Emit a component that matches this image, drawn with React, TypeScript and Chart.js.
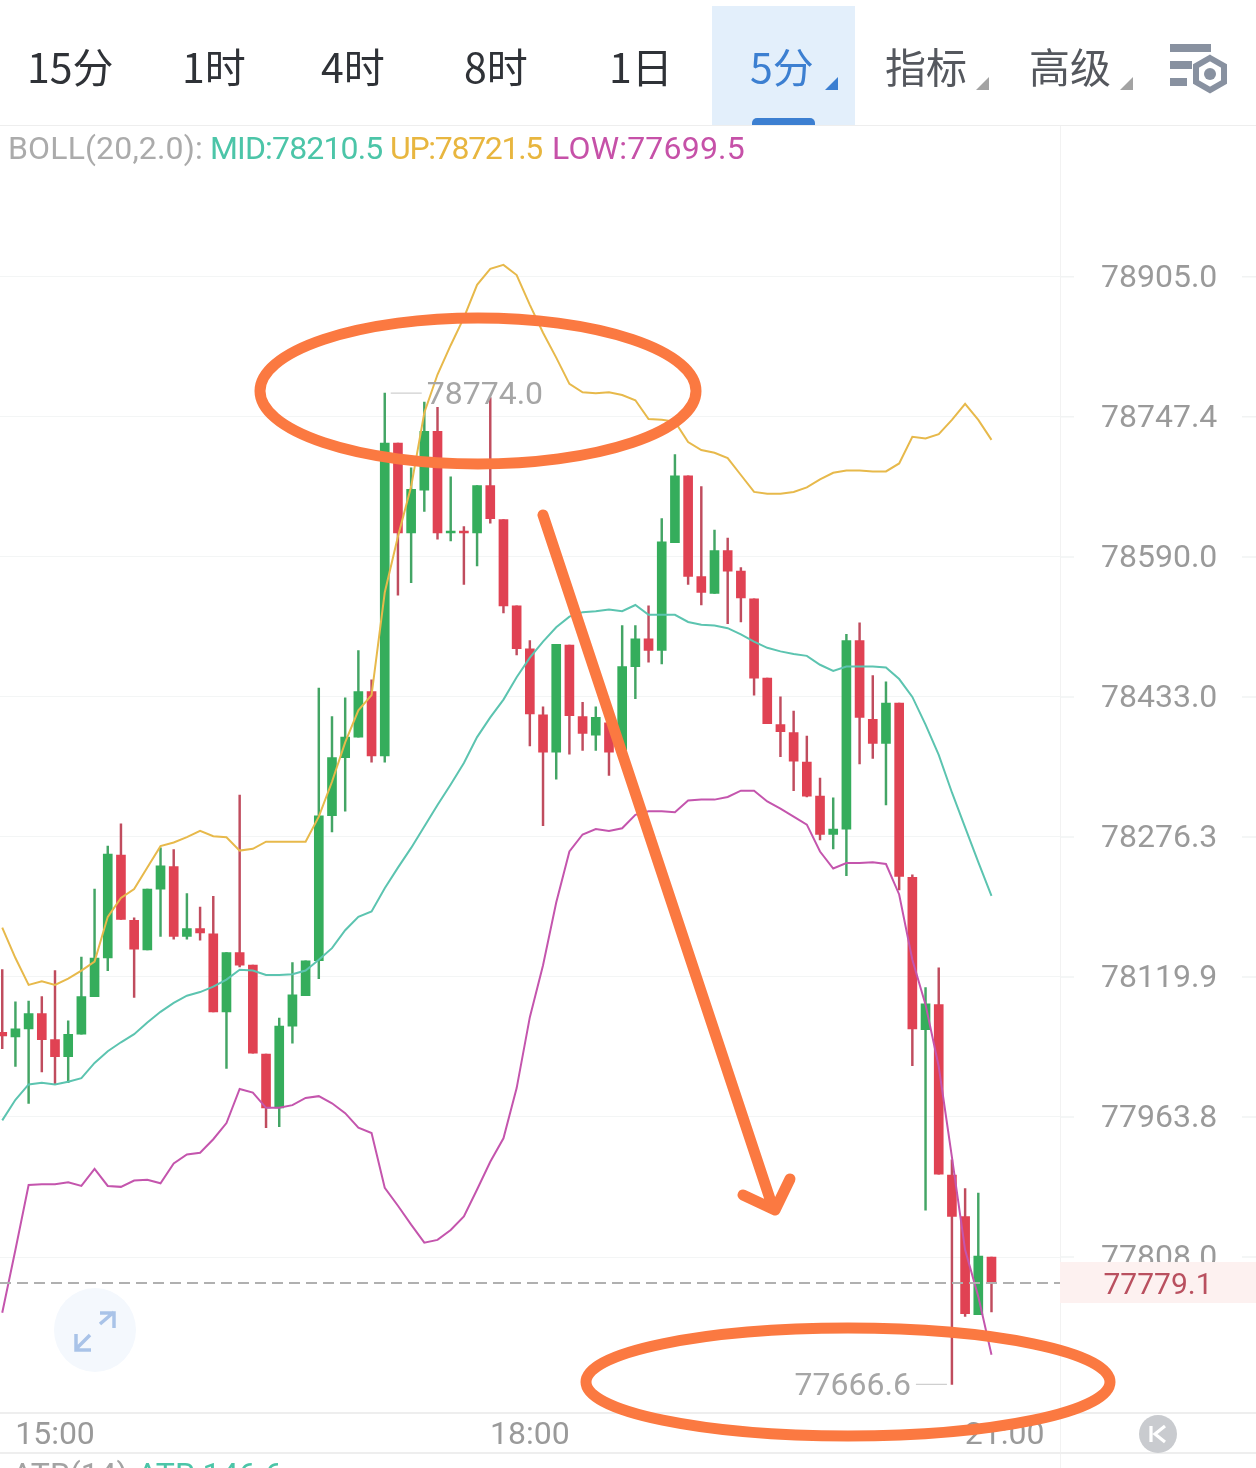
import React, { useEffect, useRef } from "react";
import { Chart, registerables } from "chart.js";

Chart.register(...registerables);

const firstIndex = -4;
const timeLabels = ["15:00", "18:00", "21:00"];
const timeTickIndex = [0, 36, 72];
const priceTicks = [78905.0, 78747.4, 78590.0, 78433.0, 78276.3, 78119.9, 77963.8, 77808.0];
const lastPrice = 77779.1;
const periodLabels = ["15分", "1时", "4时", "8时", "1日", "5分", "指标", "高级"];

const opens = [78058,78053,78062,78079,78050,78031,78056,78098,78141,78256,78183,78150,78218,78243,78165,78174,78168,78081,78147,78133,78034,77974,78065,78099,78138,78300,78365,78388,78439,78367,78718,78617,78665,78731,78617,78619,78617,78670,78632,78535,78487,78413,78371,78491,78411,78390,78404,78374,78467,78498,78485,78606,78681,78568,78549,78597,78574,78543,78454,78402,78393,78360,78322,78279,78285,78496,78408,78381,78426,78231,78061,78089,77899,77853,77744,77808];
const highs = [78128,78092,78093,78098,78127,78071,78142,78218,78266,78291,78186,78218,78264,78262,78213,78198,78210,78147,78323,78133,78034,78074,78136,78138,78443,78411,78432,78485,78452,78774,78718,78690,78764,78758,78680,78624,78670,78769,78632,78535,78496,78422,78492,78491,78427,78422,78416,78513,78513,78535,78633,78705,78681,78669,78620,78611,78578,78543,78454,78433,78417,78389,78342,78320,78503,78516,78457,78450,78426,78234,78108,78130,77916,77884,77879,77808];
const lows = [78040,78020,77979,78014,78001,78002,78056,78098,78127,78184,78097,78150,78165,78162,78162,78161,78081,78018,78131,78035,77952,77953,78046,78099,78118,78282,78305,78388,78360,78360,78547,78561,78641,78610,78608,78559,78580,78628,78527,78480,78378,78289,78341,78369,78373,78373,78345,78374,78431,78472,78470,78606,78559,78536,78549,78515,78517,78435,78403,78366,78328,78321,78273,78263,78233,78358,78364,78312,78217,78021,77860,77900,77666.6,77742,77744,77747];
const closes = [78054,78062,78079,78050,78031,78056,78098,78141,78257,78184,78151,78218,78244,78165,78174,78169,78081,78147,78133,78035,77974,78065,78100,78138,78300,78365,78388,78439,78367,78718,78617,78666,78731,78617,78619,78617,78670,78633,78535,78487,78414,78371,78492,78412,78392,78410,78371,78467,78498,78485,78607,78681,78568,78550,78597,78574,78544,78454,78403,78394,78361,78322,78279,78285,78496,78410,78381,78426,78232,78062,78090,77900,77853,77745,77809,77779.1];

const upperBand = [78175,78141,78111,78115,78111,78118,78127,78137,78187,78208,78218,78242,78266,78270,78276,78283,78277,78276,78261,78263,78271,78271,78271,78271,78299,78338,78382,78418,78435,78550,78613,78669,78752,78795,78828,78859,78896,78914,78918.5,78907,78873.5,78842,78814,78784.5,78775,78774,78775,78772,78766,78745,78744,78742,78719,78710,78707,78701,78682,78663,78661,78661,78663,78668,78677,78684.5,78687,78687,78686,78686,78695,78725,78723,78728,78744,78762,78744,78721.5];
const midBand = [77960,77983,78000,78002,78000,78003,78007,78024,78037,78047,78056,78069,78081,78091,78099,78103,78109,78117,78128,78127,78122,78122,78123,78127,78139,78152,78172,78187,78193,78219,78242,78264,78288,78312,78335,78359,78388,78410,78430,78455,78477,78495,78511,78523,78528,78529,78531,78529,78536,78525,78525,78525,78517,78514,78513,78510,78503,78495,78488,78484,78481,78479,78469,78462,78467,78467,78467,78466,78453,78433,78402,78368,78326,78287,78248,78210.5];
const lowerBand = [77746,77816,77888,77889,77889,77891,77887,77906,77887,77886,77893,77894,77890,77912,77922,77924,77939,77957,77995,77991,77974,77974,77977,77985,77987,77979,77968,77952,77946,77885,77865,77844,77824,77827,77838,77853,77883,77914,77940,77996,78075,78133,78203,78260,78279,78285,78283,78286,78301,78305,78305,78304,78317,78318,78318,78321,78328,78328,78316,78308,78299,78290,78260,78241,78247,78247,78248,78246,78212,78139,78089,78020,77919,77816,77764,77699.5];

const numFont = "Roboto, sans-serif";
const cjkFont = '"Noto Sans CJK SC", sans-serif';
const GREEN = "#35ad5c";
const RED = "#e04253";
const GREEN_WICK = "#43a565";
const RED_WICK = "#c04c5e";
const ORANGE = "#fb7941";

const overlay = {
  id: "overlay",
  afterDraw(chart: any) {
    const { ctx, scales } = chart;
    const x = scales.x;
    const y = scales.y;
    const font = `400 32px ${numFont}`;
    ctx.save();

    // stubs of the grid on the price axis
    ctx.strokeStyle = "#f1f3f3";
    ctx.lineWidth = 1.5;
    priceTicks.forEach((v) => {
      const py = y.getPixelForValue(v);
      ctx.beginPath();
      ctx.moveTo(1060, py);
      ctx.lineTo(1074, py);
      ctx.moveTo(1242, py);
      ctx.lineTo(1256, py);
      ctx.stroke();
    });

    // last price line and tag
    const lp = y.getPixelForValue(lastPrice);
    ctx.strokeStyle = "#b0b0b0";
    ctx.lineWidth = 1.8;
    ctx.setLineDash([11, 6]);
    ctx.beginPath();
    ctx.moveTo(0, lp);
    ctx.lineTo(1060, lp);
    ctx.stroke();
    ctx.setLineDash([]);
    ctx.fillStyle = "#fdf1f0";
    ctx.fillRect(1060, lp - 21, 196, 41);
    ctx.fillStyle = "#b9505f";
    ctx.font = `400 30px ${numFont}`;
    ctx.textAlign = "center";
    ctx.textBaseline = "middle";
    ctx.fillText(lastPrice.toFixed(1), 1158, lp + 3);

    // extreme labels
    const hi = Math.max(...highs);
    const lo = Math.min(...lows);
    const hiY = y.getPixelForValue(hi);
    const loY = y.getPixelForValue(lo);
    const hiX = x.getPixelForValue(highs.indexOf(hi) + firstIndex);
    const loX = x.getPixelForValue(lows.indexOf(lo) + firstIndex);
    ctx.strokeStyle = "#cfcfcf";
    ctx.lineWidth = 1.2;
    ctx.beginPath();
    ctx.moveTo(hiX + 6, hiY);
    ctx.lineTo(hiX + 37, hiY);
    ctx.moveTo(loX - 36, loY);
    ctx.lineTo(loX - 5, loY);
    ctx.stroke();
    ctx.font = font;
    ctx.fillStyle = "#a6a6a6";
    ctx.textAlign = "left";
    ctx.fillText(hi.toFixed(1), hiX + 42, hiY + 3);
    ctx.textAlign = "right";
    ctx.fillText(lo.toFixed(1), loX - 41, loY + 3);

    // expand button
    ctx.fillStyle = "#f4f8fd";
    ctx.beginPath();
    ctx.ellipse(95, 1330, 41, 42, 0, 0, Math.PI * 2);
    ctx.fill();
    ctx.strokeStyle = "#a9c3e8";
    ctx.lineWidth = 3.5;
    ctx.beginPath();
    ctx.moveTo(100, 1324);
    ctx.lineTo(114, 1312);
    ctx.moveTo(100, 1313);
    ctx.lineTo(114, 1313);
    ctx.lineTo(114, 1328);
    ctx.moveTo(90, 1335);
    ctx.lineTo(76, 1349);
    ctx.moveTo(76, 1334);
    ctx.lineTo(76, 1350);
    ctx.lineTo(91, 1350);
    ctx.stroke();

    // reset button
    ctx.fillStyle = "#c9cbcf";
    ctx.beginPath();
    ctx.arc(1158, 1434, 19, 0, Math.PI * 2);
    ctx.fill();
    ctx.strokeStyle = "#ffffff";
    ctx.lineWidth = 3.2;
    ctx.beginPath();
    ctx.moveTo(1151, 1426);
    ctx.lineTo(1151, 1442);
    ctx.moveTo(1165, 1426);
    ctx.lineTo(1155, 1434);
    ctx.lineTo(1165, 1442);
    ctx.stroke();

    // hand-drawn marks
    ctx.strokeStyle = ORANGE;
    ctx.lineWidth = 11;
    ctx.lineCap = "round";
    ctx.lineJoin = "round";
    ctx.beginPath();
    ctx.ellipse(478, 391, 218, 73, 0, 0, Math.PI * 2);
    ctx.stroke();
    ctx.beginPath();
    ctx.ellipse(848, 1382, 262, 54, 0, 0, Math.PI * 2);
    ctx.stroke();
    ctx.beginPath();
    ctx.moveTo(543, 515);
    ctx.lineTo(773, 1208);
    ctx.moveTo(743, 1195);
    ctx.lineTo(775, 1210);
    ctx.lineTo(790, 1179);
    ctx.stroke();
    ctx.restore();
  },
};

const label = (
  text: string,
  left: number,
  top: number,
  color: string,
  font: string,
  size: number,
  extra: any = {}
) => (
  <span
    style={{
      position: "absolute",
      left,
      top,
      color,
      fontFamily: font,
      fontSize: size,
      lineHeight: `${size + 4}px`,
      whiteSpace: "nowrap",
      ...extra,
    }}
  >
    {text}
  </span>
);

export default function App() {
  const ref = useRef<HTMLCanvasElement>(null);

  useEffect(() => {
    const xs = opens.map((_, i) => i + firstIndex);
    const wickColors = opens.map((o, i) => (closes[i] >= o ? GREEN_WICK : RED_WICK));
    const bodyColors = opens.map((o, i) => (closes[i] >= o ? GREEN : RED));
    const band = (values: number[], color: string) => ({
      type: "line",
      data: values.map((v, i) => ({ x: xs[i], y: v })),
      borderColor: color,
      borderWidth: 2,
      pointRadius: 0,
      tension: 0,
      order: 1,
    });
    const chart = new Chart(ref.current as HTMLCanvasElement, {
      type: "bar",
      data: {
        datasets: [
          band(upperBand, "#e7b94b"),
          band(midBand, "#5cc4b0"),
          band(lowerBand, "#c455ad"),
          {
            type: "bar",
            data: xs.map((x, i) => ({ x, y: [opens[i], closes[i]] })),
            backgroundColor: bodyColors,
            barThickness: 9,
            grouped: false,
            order: 2,
          },
          {
            type: "bar",
            data: xs.map((x, i) => ({ x, y: [lows[i], highs[i]] })),
            backgroundColor: wickColors,
            barThickness: 1.8,
            grouped: false,
            order: 3,
          },
        ] as any,
      },
      options: {
        responsive: false,
        animation: false,
        layout: { padding: { top: 126 } },
        plugins: { legend: { display: false }, tooltip: { enabled: false } },
        scales: {
          x: {
            type: "linear",
            offset: false,
            min: -55 / 13.19,
            max: (1060 - 55) / 13.19,
            grid: { display: false },
            border: { display: false },
            afterBuildTicks: (s: any) => {
              s.ticks = timeTickIndex.map((value) => ({ value }));
            },
            afterFit: (s: any) => {
              s.height = 56;
            },
            ticks: {
              autoSkip: false,
              maxRotation: 0,
              padding: 1,
              color: "#9a9a9a",
              font: { family: numFont, size: 32, weight: "400" },
              callback: (v: any) => timeLabels[timeTickIndex.indexOf(Number(v))],
            },
          },
          y: {
            type: "logarithmic",
            position: "right",
            min: 77640.6,
            max: 79075.2,
            grid: { color: "#f3f5f5", lineWidth: 1, drawTicks: false },
            border: { display: false },
            afterBuildTicks: (s: any) => {
              s.ticks = priceTicks.map((value) => ({ value }));
            },
            afterFit: (s: any) => {
              s.width = 196;
            },
            ticks: {
              autoSkip: false,
              maxRotation: 0,
              crossAlign: "center",
              padding: 41,
              labelOffset: 2,
              color: "#9a9a9a",
              font: { family: numFont, size: 32, weight: "400" },
              callback: (v: any) => Number(v).toFixed(1),
            },
          },
        },
      } as any,
      plugins: [overlay],
    } as any);
    return () => chart.destroy();
  }, []);

  const tabX = [27, 182, 321, 464, 609, 750, 885, 1029];
  const tabColors = ["#2f3237", "#2f3237", "#2f3237", "#2f3237", "#2f3237", "#3c7fd1", "#55585e", "#55585e"];

  return (
    <div style={{ position: "absolute", left: 0, top: 0, width: 1256, height: 1468, overflow: "hidden", background: "#fff" }}>
      <div style={{ position: "absolute", left: 712, top: 6, width: 143, height: 119, background: "#e3effb" }} />
      <div style={{ position: "absolute", left: 752, top: 118, width: 63, height: 7, background: "#3c7fd1", borderRadius: "5px 5px 0 0" }} />
      <div style={{ position: "absolute", left: 0, top: 125, width: 1256, height: 1, background: "#eeeeee" }} />
      <div style={{ position: "absolute", left: 1060, top: 126, width: 1, height: 1342, background: "#f2f2f2" }} />
      <div style={{ position: "absolute", left: 0, top: 1412, width: 1256, height: 1.5, background: "#eeeeee" }} />
      <div style={{ position: "absolute", left: 0, top: 1452, width: 1256, height: 1.5, background: "#eeeeee" }} />
      <canvas ref={ref} width={1256} height={1468} style={{ position: "absolute", left: 0, top: 0, display: "block" }} />
      {periodLabels.map((t, i) =>
        <React.Fragment key={t}>{label(t, tabX[i], 43, tabColors[i], cjkFont, 41)}</React.Fragment>
      )}
      {label("BOLL(20,2.0):", 8, 130, "#ababab", numFont, 32, { letterSpacing: "0.15px" })}
      {label("MID:78210.5", 210, 130, "#4cc5a8", numFont, 32, { letterSpacing: "-0.85px" })}
      {label("UP:78721.5", 390, 130, "#e8b63f", numFont, 32, { letterSpacing: "-1.3px" })}
      {label("LOW:77699.5", 552, 130, "#c651a8", numFont, 32, { letterSpacing: "0.2px" })}
      {label("ATR(14)", 12, 1456, "#a3a3a3", numFont, 32)}
      {label("ATR:146.6", 137, 1456, "#4cc5a8", numFont, 32)}
      <svg width={1256} height={126} style={{ position: "absolute", left: 0, top: 0 }}>
        <polygon points="825,90 838,90 838,77" fill="#3c7fd1" />
        <polygon points="976,90 989,90 989,77" fill="#a3a3a3" />
        <polygon points="1120,90 1133,90 1133,77" fill="#a3a3a3" />
        <rect x={1170} y={44} width={41} height={8} fill="#8891a0" />
        <rect x={1170} y={61} width={22} height={8} fill="#8891a0" />
        <rect x={1170} y={78} width={17} height={8} fill="#8891a0" />
        <polygon points="1210,58 1224,66 1224,82 1210,90 1196,82 1196,66" fill="none" stroke="#8891a0" strokeWidth={6} />
        <circle cx={1210} cy={74} r={6} fill="#8891a0" />
      </svg>
    </div>
  );
}
